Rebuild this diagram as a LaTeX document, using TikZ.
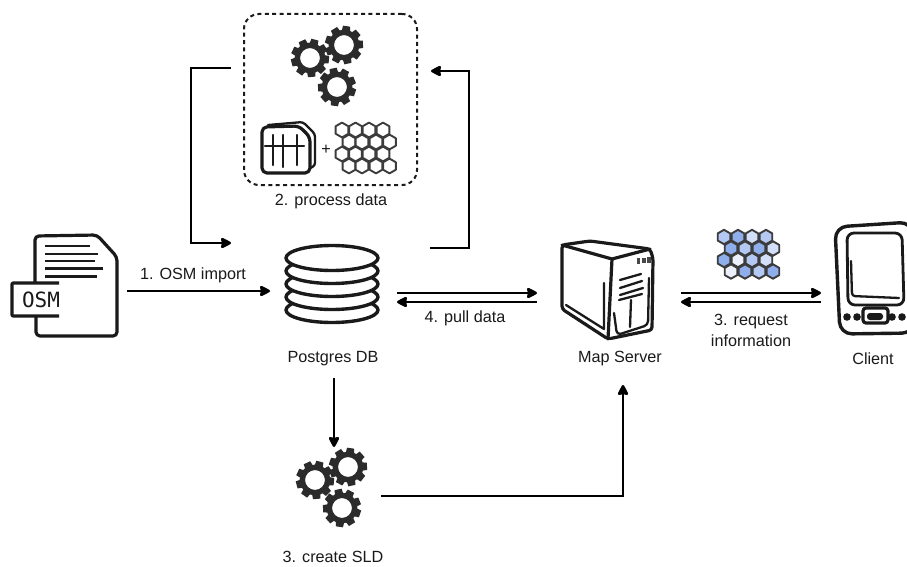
\documentclass[tikz,border=0pt]{standalone}
\usepackage{fontspec}
\setmainfont{Liberation Sans}
\newfontfamily\osmfont{DejaVu Sans Mono}
\usetikzlibrary{arrows.meta}
\definecolor{ink}{HTML}{1A1A1A}
\definecolor{gearc}{HTML}{2B2B2B}
\definecolor{hexa}{HTML}{8FAEEC}
\definecolor{hexb}{HTML}{B3C8F2}
\definecolor{hexc}{HTML}{D3DFF8}
\definecolor{hexd}{HTML}{EBF0FB}
\tikzset{
  conn/.style={draw=black,line width=2.7pt},
  arr/.style={conn,-{Stealth[length=12pt,width=12pt,inset=1.2pt,round=false]}},
  lbl/.style={font=\fontsize{16.2}{21}\selectfont,text=ink,align=center,inner sep=0pt},
  ico/.style={draw=ink,line width=3.2pt,line cap=round,line join=round},
  icothin/.style={draw=ink,line width=2.3pt,line cap=round,line join=round},
  pics/gear/.style={code={
    \foreach \a in {0,40,...,320}{
      \fill[gearc,rotate=\a+#1] (-4.4,12) -- (-3.6,19) -- (3.6,19) -- (4.4,12) -- cycle;
    }
    \draw[gearc,line width=5.4pt] (0,0) circle (12.7);
  }},
}
\newcommand{\hexcell}[4]{%
  \fill[#4] (#1,#2) +(90:#3) -- +(30:#3) -- +(-30:#3) -- +(-90:#3) -- +(-150:#3) -- +(150:#3) -- cycle;
  \draw[line width=1.9pt,draw=ink!85,line join=round] (#1,#2) +(90:#3) -- +(30:#3) -- +(-30:#3) -- +(-90:#3) -- +(-150:#3) -- +(150:#3) -- cycle;
}
\begin{document}
\begin{tikzpicture}[x=1pt,y=-1pt]
\useasboundingbox (0,0) rectangle (907,567);
\fill[white] (0,0) rectangle (907,567);

% process data box
\node[draw=ink,line width=2pt,dash pattern=on 4pt off 3.4pt,rounded corners=15pt,minimum width=173pt,minimum height=171pt,inner sep=0pt] (procbox) at (330.5,99.5) {};
\pic at (310,58) {gear=5};
\pic at (344,45) {gear=12};
\pic at (337,87) {gear=-8};

% tile icon
\draw[icothin,rounded corners=3pt] (268,125) -- (303,122) -- (315,134) -- (315,166) -- (310,168);
\draw[ico,fill=white,rounded corners=5pt] (262,127) -- (299,126) -- (310,137) -- (310,173) -- (262,173) -- cycle;
\draw[icothin] (265,146) -- (304,146) (273,135) -- (273,165) (283,135) -- (283,167) (297,135) -- (297,165);
\node[lbl] (plus) at (326,150) {+};

% grey hex grid
\foreach \y/\xs in {130/{342,355.5,369,383},142/{349,362,376,389.5},154/{342,355.5,369,383},166/{349,362,376,389.5}}{
  \foreach \x in \xs { \hexcell{\x}{\y}{7.4}{white} }
}

% document
\draw[ico,fill=white,rounded corners=4pt] (35,282) -- (35,236) -- (97,235) -- (117,257) -- (117,336) -- (36,336) -- (36,317);
\foreach \y/\xe in {246/90,254/98,261/95,268.5/103,276.5/97}{ \draw[draw=ink,line width=2.2pt] (45,\y) -- (\xe,\y); }
\fill[white] (12,283) rectangle (59,316);
\draw[ico,line cap=butt,rounded corners=1pt] (59,283) -- (12,283) -- (12,316) -- (59,316);
\node[inner sep=0pt,font=\osmfont\fontsize{21}{21}\selectfont,text=ink] (osm) at (41,300) {OSM};

% database
\foreach \k in {4,3,2,1,0}{
  \draw[ico,line width=3.4pt,fill=white] (332,258+13*\k) ellipse (46 and 12.5);
}
\node[minimum width=92pt,minimum height=78pt,inner sep=0pt] (db) at (332,285) {};

% server
\node[minimum width=92pt,minimum height=98pt,inner sep=0pt] (server) at (607,290) {};
\draw[ico,line width=3.2pt,fill=white,rounded corners=3pt] (562,245) -- (590,241) -- (650,249) -- (653,258) -- (652,330) -- (608,339) -- (562,309) -- cycle;
\draw[ico,line width=3.2pt] (562,245) -- (612,259) -- (650,249);
\draw[ico,line width=3.2pt] (612,259) -- (608,339);
\draw[icothin] (604,283) -- (604,329) -- (566,305);
\draw[icothin] (620,280) -- (641,274) (620,288) -- (642,281) (620,295) -- (643,288) (619,300) -- (642,294);
\draw[icothin] (631,300) -- (630,327);
\draw[icothin,rounded corners=4pt] (614,313) -- (617,335) -- (648,325) -- (649,278);
\foreach \x/\y in {638.5/261,644/260.5,649/260}{ \draw[draw=ink!80,line width=3.4pt] (\x,\y-2.8) -- (\x,\y+2.8); }

% client device (clipped by the page edge)
\node[minimum width=80pt,minimum height=108pt,inner sep=0pt] (client) at (872,280) {};
\begin{scope}
\clip (0,0) rectangle (907,567);
\draw[ico,line width=3.4pt,rounded corners=12pt] (835,227) -- (912,222) -- (914,333) -- (840,334) -- cycle;
\draw[ico,line width=2.8pt,rounded corners=7pt] (847,233) -- (902,233) -- (904,305) -- (848,305) -- cycle;
\draw[icothin,rounded corners=3pt] (851,261) -- (852,296) -- (899,298);
\draw[ico,fill=white,rounded corners=3pt] (863,308) rectangle (888,323);
\fill[ink,rounded corners=3pt] (867,313) rectangle (883,320);
\foreach \x in {847,857,892,902}{ \fill[ink] (\x,317) circle (3.8); }
\end{scope}

% coloured hex grid
\hexcell{724}{237}{7.2}{hexb}\hexcell{738}{237}{7.2}{hexa}\hexcell{752}{237}{7.2}{hexc}\hexcell{766}{237}{7.2}{hexb}
\hexcell{731}{248.5}{7.2}{hexa}\hexcell{745}{248.5}{7.2}{hexb}\hexcell{759}{248.5}{7.2}{hexa}\hexcell{773}{248.5}{7.2}{hexc}
\hexcell{724}{260}{7.2}{hexa}\hexcell{738}{260}{7.2}{hexd}\hexcell{752}{260}{7.2}{hexb}\hexcell{766}{260}{7.2}{hexc}
\hexcell{731}{271.5}{7.2}{hexd}\hexcell{745}{271.5}{7.2}{hexa}\hexcell{759}{271.5}{7.2}{hexb}\hexcell{773}{271.5}{7.2}{hexa}

% lower gears
\pic at (315,480) {gear=5};
\pic at (348,467) {gear=12};
\pic at (342,508) {gear=-8};
\node[minimum width=74pt,minimum height=84pt,inner sep=0pt] (sld) at (332,487) {};

% connector end points
\coordinate (osmout) at (127,291);
\coordinate (dbin) at (270,291);
\coordinate (dbr1) at (397,293);
\coordinate (srvl1) at (537,293);
\coordinate (srvl2) at (537,302);
\coordinate (dbr2) at (397,302);
\coordinate (srvr1) at (681,293);
\coordinate (clil1) at (821,293);
\coordinate (clil2) at (821,302);
\coordinate (srvr2) at (681,302);
\coordinate (boxl) at (231,68);
\coordinate (dbtl) at (231,243);
\coordinate (dbtr) at (430,248);
\coordinate (boxr) at (431,71);
\coordinate (dbb) at (334,378);
\coordinate (sldt) at (334,447);
\coordinate (sldr) at (381,496);
\coordinate (srvb) at (623,385);

\draw[arr] (osmout) -- (dbin);
\draw[arr] (dbr1) -- (srvl1);
\draw[arr] (srvl2) -- (dbr2);
\draw[arr] (srvr1) -- (clil1);
\draw[arr] (clil2) -- (srvr2);
\draw[arr] (boxl) -- (191,68) -- (191,243) -- (dbtl);
\draw[arr] (dbtr) -- (469,248) -- (469,71) -- (boxr);
\draw[arr] (dbb) -- (sldt);
\draw[arr] (sldr) -- (623,496) -- (srvb);

% labels
\node[lbl] (l1) at (193,275) {1. OSM import};
\node[lbl] (l2) at (331,201) {2. process data};
\node[lbl] (l3) at (465,318) {4. pull data};
\node[lbl] (l4) at (751,330) {3. request\\information};
\node[lbl] (l5) at (333,359) {Postgres DB};
\node[lbl] (l6) at (620,359) {Map Server};
\node[lbl] (l7) at (873,359) {Client};
\node[lbl] (l8) at (333,557) {3. create SLD};
\end{tikzpicture}
\end{document}
